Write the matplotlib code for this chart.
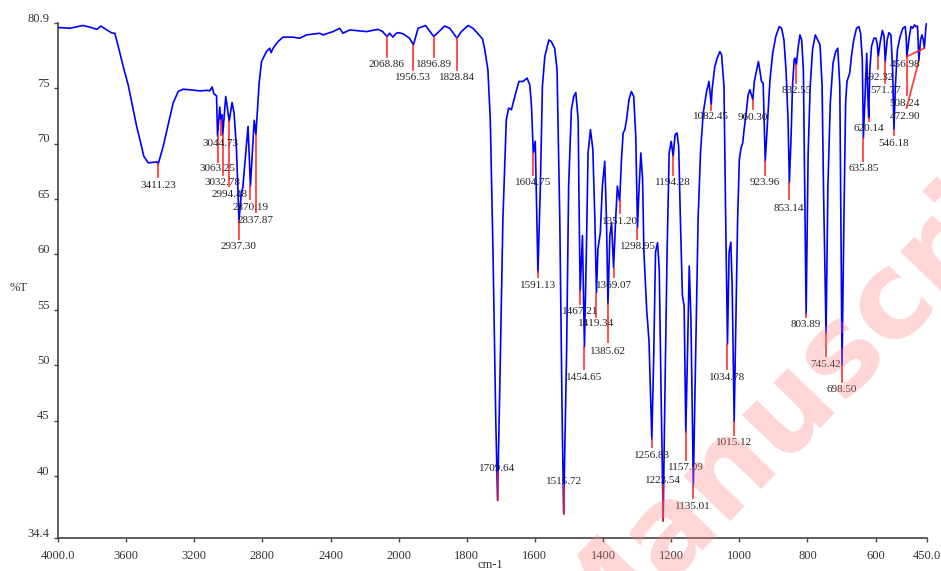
import numpy as np
import matplotlib
matplotlib.use("Agg")
import matplotlib.pyplot as plt
from matplotlib.transforms import ScaledTranslation

# IR trace, 4000 -> 2000 cm-1
wn_high = [4000, 3930, 3853, 3812, 3771, 3748, 3713, 3683, 3666, 3646,
           3617, 3588, 3558, 3538, 3519, 3496, 3470, 3441, 3421, 3411.23,
           3382, 3353, 3324, 3294, 3265, 3226, 3167, 3120, 3109, 3095,
           3085, 3069, 3063.25, 3050, 3044.73, 3038, 3032.78, 3015, 2994.48, 2978,
           2966, 2952, 2937.30, 2923, 2915, 2884, 2870.19, 2848, 2837.87, 2819,
           2805, 2776, 2757, 2749, 2737, 2708, 2679, 2620, 2581, 2541,
           2463, 2444, 2385, 2346, 2327, 2287, 2189, 2121, 2094, 2068.86,
           2053, 2034, 2014]
t_high = [80.47, 80.4, 80.65, 80.5, 80.3, 80.6, 80.25, 79.97, 79.95, 78.75,
          76.95, 75.3, 73.05, 71.55, 70.35, 68.85, 68.25, 68.3, 68.35, 68.17,
          69.75, 71.7, 73.65, 74.7, 74.9, 74.85, 74.75, 74.8, 74.75, 75.1,
          74.5, 74.3, 70.65, 73.3, 72.15, 72.6, 70.8, 74.25, 72.0, 73.7,
          72.75, 69.45, 63.0, 65.6, 66.0, 71.55, 66.15, 72.1, 70.8, 75.45,
          77.4, 78.3, 78.6, 78.2, 78.6, 79.2, 79.6, 79.6, 79.5, 79.8,
          79.95, 79.8, 80.1, 80.4, 79.95, 80.25, 80.1, 80.3, 80.1, 79.65,
          79.95, 79.6, 79.95]

# IR trace, 2000 -> 450 cm-1
wn_low = [2000, 1987, 1968, 1956.53, 1943, 1921, 1896.89, 1865, 1850, 1828.84,
          1816, 1796, 1782, 1767, 1754, 1747, 1738, 1731, 1723, 1715,
          1709.64, 1703, 1694, 1684, 1677, 1669, 1659, 1647, 1635, 1623,
          1615, 1610, 1604.75, 1599, 1591.13, 1584, 1578, 1571, 1559, 1552,
          1542, 1535, 1527, 1520, 1515.72, 1507, 1501, 1493, 1486, 1480,
          1473, 1471, 1467.21, 1460.5, 1454.65, 1449, 1444, 1437, 1430, 1424,
          1419.34, 1415, 1408, 1402, 1395, 1390, 1385.62, 1380, 1375, 1369.07,
          1363, 1358, 1351.20, 1346, 1341, 1336, 1331, 1324, 1317, 1310,
          1304, 1298.95, 1294, 1289, 1284, 1280, 1272, 1265, 1256.83, 1251,
          1246, 1240, 1235, 1230, 1223.54, 1218, 1212, 1206, 1200, 1194.28,
          1188.5, 1183, 1178, 1173, 1167, 1162, 1157.09, 1152, 1147, 1142,
          1135.01, 1128, 1121, 1114, 1106, 1096, 1089, 1082.45, 1080, 1072,
          1065, 1057, 1052, 1045, 1040, 1034.78, 1030, 1025, 1021, 1015.12,
          1010, 1005, 1000, 995, 990, 986, 981, 974, 969, 960.30,
          956, 949, 944, 940, 935, 930, 923.96, 917, 910, 902,
          893, 883, 876, 869, 863, 857, 853.14, 848, 844, 839,
          837, 832.55, 827, 822, 817, 812, 808, 803.89, 798, 792,
          785, 777, 770, 763, 757, 753, 745.42, 740, 733, 725,
          717, 711, 705, 702, 698.50, 693, 688, 684, 676, 671,
          664, 656, 649, 644, 639, 635.85, 630, 626, 623, 620.14,
          617, 612, 605, 599, 595, 592.32, 587, 580, 575, 571.77,
          566, 561, 555, 550, 546.18, 542, 536, 528, 520, 513,
          510, 508.24, 501, 496, 491, 486, 481, 477, 472.90, 468,
          464, 460, 456.98, 452, 450]
t_low = [80.0, 79.9, 79.5, 78.9, 80.4, 80.65, 79.65, 80.6, 80.4, 79.5,
         80.1, 80.65, 80.4, 79.9, 79.45, 78.45, 76.65, 72.15, 60.15, 45.2,
         37.8, 48.2, 63.15, 72.15, 73.2, 73.05, 74.25, 75.6, 75.6, 75.9,
         75.3, 73.35, 69.15, 70.2, 58.4, 66.15, 75.15, 77.85, 79.35, 79.2,
         78.6, 76.65, 63.15, 45.15, 36.6, 51.2, 66.15, 73.05, 74.25, 74.6,
         72.15, 66.0, 56.7, 61.7, 51.6, 60.2, 69.15, 71.25, 69.5, 63.15,
         56.55, 60.5, 61.95, 66.15, 68.4, 63.15, 55.5, 61.65, 62.85, 58.8,
         63.15, 66.15, 64.8, 68.55, 70.95, 71.25, 72.15, 73.95, 74.7, 74.25,
         70.65, 62.4, 66.15, 69.15, 66.75, 60.2, 55.05, 52.1, 43.3, 51.15,
         60.2, 61.05, 58.65, 48.15, 35.95, 48.2, 60.2, 69.15, 70.2, 68.85,
         70.8, 70.95, 69.75, 63.15, 56.25, 55.35, 43.95, 51.2, 58.95, 54.15,
         39.2, 51.2, 63.15, 69.15, 72.75, 74.7, 75.6, 73.5, 74.85, 76.95,
         77.7, 78.3, 78.0, 75.15, 63.15, 51.9, 60.2, 61.1, 57.15, 44.9,
         54.15, 63.15, 68.55, 69.6, 70.05, 71.25, 72.45, 74.4, 74.85, 73.95,
         75.6, 76.65, 77.4, 76.65, 75.6, 75.45, 68.4, 72.15, 75.75, 78.15,
         79.65, 80.55, 80.4, 79.35, 76.65, 72.15, 66.45, 70.65, 75.15, 77.55,
         77.7, 77.1, 78.75, 79.8, 79.35, 76.65, 66.15, 54.6, 69.15, 75.15,
         78.5, 79.8, 79.35, 78.9, 75.15, 66.15, 52.8, 66.15, 73.65, 77.25,
         78.3, 78.6, 75.15, 63.15, 49.95, 63.15, 73.65, 75.6, 76.35, 77.85,
         79.35, 80.4, 80.55, 79.95, 77.55, 70.5, 75.15, 78.15, 74.5, 72.3,
         76.65, 78.75, 79.5, 79.5, 78.9, 77.85, 79.05, 80.2, 79.65, 77.4,
         79.35, 80.0, 79.8, 76.65, 71.25, 75.15, 78.45, 79.65, 80.4, 80.55,
         79.5, 77.85, 79.65, 80.55, 80.4, 80.7, 80.55, 80.6, 77.5, 79.35,
         79.8, 79.35, 78.6, 80.6, 80.9]

# picked peaks
peak_wn = [3411.23, 3063.25, 3044.73, 3032.78, 2994.48, 2937.30, 2870.19, 2837.87,
           2068.86, 1956.53, 1896.89, 1828.84, 1709.64, 1604.75, 1591.13, 1515.72,
           1467.21, 1454.65, 1419.34, 1385.62, 1369.07, 1351.20, 1298.95, 1256.83,
           1223.54, 1194.28, 1157.09, 1135.01, 1082.45, 1034.78, 1015.12, 960.30,
           923.96, 853.14, 832.55, 803.89, 745.42, 698.50, 635.85, 620.14,
           592.32, 571.77, 546.18, 508.24, 472.90, 456.98]

# layout of the peak markers and their labels (%T where the marker stops / label centre)
marker_end_t = [67.02, 68.37, 70.80, 67.20, 66.15, 61.36, 64.96, 63.79,
                77.84, 76.65, 77.84, 76.65, 40.40, 67.20, 57.94, 39.15,
                55.51, 49.66, 54.32, 52.07, 57.91, 63.76, 61.36, 42.63,
                39.15, 67.20, 41.42, 37.98, 73.05, 49.66, 43.67, 73.11,
                67.20, 64.96, 75.50, 54.32, 50.81, 48.47, 68.40, 72.00,
                76.71, 75.50, 70.80, 74.40, 73.20, 77.84]
label_t = [66.21, 67.72, 69.99, 66.51, 65.41, 60.70, 64.21, 63.09,
           77.16, 75.95, 77.16, 75.95, 40.68, 66.51, 57.16, 39.53,
           54.82, 48.92, 53.72, 51.26, 57.16, 63.00, 60.67, 41.87,
           39.55, 66.51, 40.72, 37.26, 72.45, 48.86, 43.01, 72.39,
           66.46, 64.12, 74.76, 53.63, 50.06, 47.78, 67.72, 71.31,
           75.99, 74.79, 69.99, 73.65, 72.45, 77.16]
# the last crowded peaks get leader lines to labels placed at the side
leader_wn = {472.90: 509, 456.98: 509}
label_side_wn = {508.24: 514, 472.90: 514, 456.98: 514}

x_ticks = [4000, 3600, 3200, 2800, 2400, 2000, 1800, 1600, 1400, 1200, 1000, 800, 600, 450]
x_tick_labels = ["4000.0", "3600", "3200", "2800", "2400", "2000", "1800", "1600",
                 "1400", "1200", "1000", "800", "600", "450.0"]
y_ticks = [80.9, 75, 70, 65, 60, 55, 50, 45, 40, 34.4]
y_tick_labels = ["80.9", "75", "70", "65", "60", "55", "50", "45", "40", "34.4"]


def forward(w):
    # spectrometer axis: above 2000 cm-1 is drawn at half scale
    w = np.asarray(w, dtype=float)
    return np.where(w > 2000, 2000 + (w - 2000) / 2.0, w)


def inverse(u):
    u = np.asarray(u, dtype=float)
    return np.where(u > 2000, 2000 + (u - 2000) * 2.0, u)


def main():
    plt.rcParams["font.family"] = ["Liberation Serif", "DejaVu Serif"]

    fig = plt.figure(figsize=(9.41, 5.71), dpi=100)
    ax = fig.add_axes([0.0616, 0.0578, 0.9232, 0.9024])

    wn = np.array(wn_high + wn_low)
    pt = np.array(t_high + t_low)

    ax.set_xscale("function", functions=(forward, inverse))
    ax.plot(wn, pt, color="#0000ff", lw=1.2, zorder=3)

    for i in range(len(peak_wn)):
        p = peak_wn[i]
        t_min = np.interp(p, wn[::-1], pt[::-1])
        end_wn = leader_wn.get(p, p)
        ax.plot([p, end_wn], [t_min, marker_end_t[i]], color="#ff2020",
                lw=1.3, alpha=0.85, zorder=4)
        ax.text(label_side_wn.get(p, p), label_t[i], "%.2f" % p,
                ha="center", va="center", fontsize=8, color="#222222", zorder=5)

    ax.set_xlim(4000, 450)
    ax.set_ylim(34.4, 80.9)
    ax.set_xticks(x_ticks)
    ax.set_xticklabels(x_tick_labels)
    ax.set_yticks(y_ticks)
    ax.set_yticklabels(y_tick_labels)
    ax.minorticks_off()

    for side in ["top", "right"]:
        ax.spines[side].set_visible(False)
    for side in ["left", "bottom"]:
        ax.spines[side].set_color("#444444")
        ax.spines[side].set_linewidth(1.2)
    ax.tick_params(direction="out", length=3, width=1, color="#444444",
                   labelsize=9, labelcolor="#333333")
    ax.tick_params(axis="x", pad=6)
    ax.tick_params(axis="y", pad=3)

    shift = ScaledTranslation(0, 4 / 72.0, fig.dpi_scale_trans)
    for lab in ax.get_yticklabels():
        lab.set_transform(lab.get_transform() + shift)

    fig.text(10 / 941, 1 - 288 / 571, "%T", fontsize=9, color="#333333",
             ha="left", va="center")
    fig.text(490 / 941, 1 - 565 / 571, "cm-1", fontsize=9, color="#333333",
             ha="center", va="center")

    # journal watermark lying over the plot (runs off the figure edge, as in the source)
    fig.text(0.872, 0.352, "Manuscript", rotation=46, rotation_mode="anchor",
             ha="center", va="center", fontsize=86, fontweight="bold",
             family="DejaVu Sans", color="#ff8080", alpha=0.32, zorder=10)

    fig.savefig("out.png", dpi=100)
    plt.close(fig)


if __name__ == "__main__":
    main()
